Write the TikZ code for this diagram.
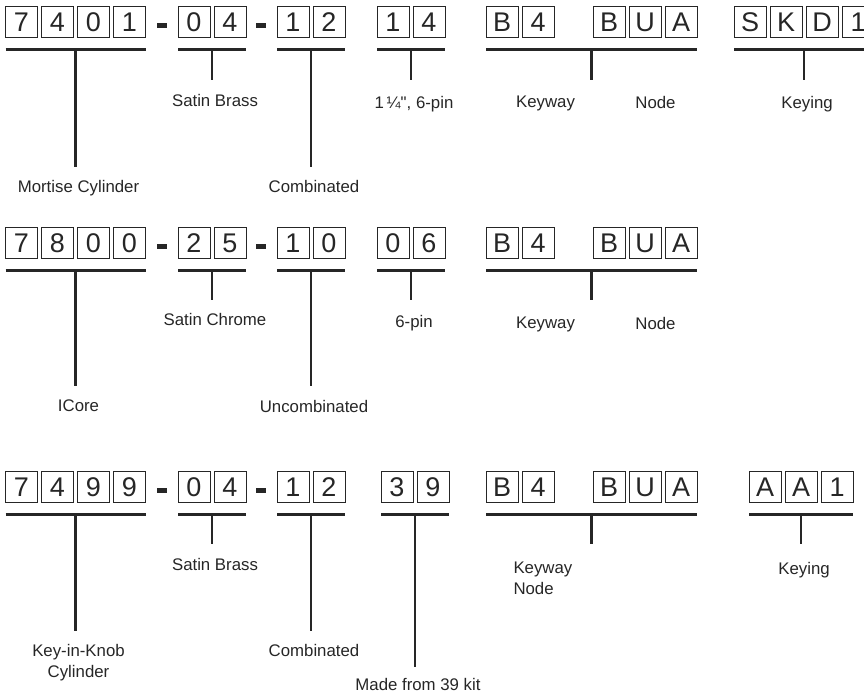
\documentclass[tikz,border=0pt]{standalone}
\usepackage{fontspec}
\setmainfont{Liberation Sans}
\newfontfamily\labelfont{Liberation Sans}
\usepackage{tikz}
\usetikzlibrary{positioning}

\begin{document}
\begin{tikzpicture}[
    x=1pt, y=-1pt,
    node distance=4pt,
    outer sep=0pt,
    digit/.style={draw=black!85, line width=1pt, rectangle, minimum width=32pt, minimum height=31pt, inner sep=0pt, font=\fontsize{27}{27}\selectfont, text=black!85},
    hyph/.style={fill=black!85, rectangle, minimum width=10pt, minimum height=5pt, inner sep=0pt, yshift=-3.5pt},
    bar/.style={draw=black!85, line width=3pt},
    stem/.style={draw=black!85, line width=2.4pt},
    lbl/.style={inner sep=0pt, font=\labelfont\fontsize{16.8}{21}\selectfont, text=black!85, align=center, xshift=3pt}
]
    \useasboundingbox (0,0) rectangle (864,694);
    \clip (0,0) rectangle (864,694);

    % Mortise cylinder
    \node [digit] (ma1) at (21.5,22) {7};
    \node [digit, right=of ma1] (ma2) {4};
    \node [digit, right=of ma2] (ma3) {0};
    \node [digit, right=of ma3] (ma4) {1};
    \node [hyph, right=11.5pt of ma4] (mh1) {};
    \node [digit, right=32.5pt of ma4] (mb1) {0};
    \node [digit, right=of mb1] (mb2) {4};
    \node [hyph, right=10pt of mb2] (mh2) {};
    \node [digit, right=31pt of mb2] (mc1) {1};
    \node [digit, right=of mc1] (mc2) {2};
    \node [digit, right=32pt of mc2] (md1) {1};
    \node [digit, right=of md1] (md2) {4};
    \node [digit, right=41pt of md2] (me1) {B};
    \node [digit, right=of me1] (me2) {4};
    \node [digit, right=39pt of me2] (mf1) {B};
    \node [digit, right=of mf1] (mf2) {U};
    \node [digit, right=of mf2] (mf3) {A};
    \node [digit, right=37pt of mf3] (mg1) {S};
    \node [digit, right=of mg1] (mg2) {K};
    \node [digit, right=of mg2] (mg3) {D};
    \node [digit, right=of mg3] (mg4) {1};

    \draw [bar] ([yshift=-11.5pt]ma1.south west) -- ([yshift=-11.5pt]ma4.south east) coordinate [midway] (uma);
    \draw [bar] ([yshift=-11.5pt]mb1.south west) -- ([yshift=-11.5pt]mb2.south east) coordinate [midway] (umb);
    \draw [bar] ([yshift=-11.5pt]mc1.south west) -- ([yshift=-11.5pt]mc2.south east) coordinate [midway] (umc);
    \draw [bar] ([yshift=-11.5pt]md1.south west) -- ([yshift=-11.5pt]md2.south east) coordinate [midway] (umd);
    \draw [bar] ([yshift=-11.5pt]me1.south west) -- ([yshift=-11.5pt]mf3.south east) coordinate [midway] (ume);
    \draw [bar] ([yshift=-11.5pt]mg1.south west) -- ([yshift=-11.5pt]mg4.south east) coordinate [midway] (umg);

    \draw [stem] (uma) -- ++(0,118) coordinate (sma);
    \draw [stem] (umb) -- ++(0,31) coordinate (smb);
    \draw [stem] (umc) -- ++(0,118) coordinate (smc);
    \draw [stem] (umd) -- ++(0,31) coordinate (smd);
    \draw [stem] (ume) -- ++(0,31) coordinate (sme);
    \draw [stem] (umg) -- ++(0,31) coordinate (smg);

    \node [lbl, below=13pt of sma] (lma) {Mortise Cylinder};
    \node [lbl, below=14pt of smb] (lmb) {Satin Brass};
    \node [lbl, below=13pt of smc] (lmc) {Combinated};
    \node [lbl, below=16pt of smd] (lmd) {1\,¼", 6-pin};
    \node [lbl, below=16pt of sme, xshift=-49pt] (lme) {Keyway};
    \node [lbl, below=16pt of sme, xshift=61pt] (lmn) {Node};
    \node [lbl, below=16pt of smg] (lmg) {Keying};

    % ICore
    \node [digit] (ia1) at (21.5,243) {7};
    \node [digit, right=of ia1] (ia2) {8};
    \node [digit, right=of ia2] (ia3) {0};
    \node [digit, right=of ia3] (ia4) {0};
    \node [hyph, right=11.5pt of ia4] (ih1) {};
    \node [digit, right=32.5pt of ia4] (ib1) {2};
    \node [digit, right=of ib1] (ib2) {5};
    \node [hyph, right=10pt of ib2] (ih2) {};
    \node [digit, right=31pt of ib2] (ic1) {1};
    \node [digit, right=of ic1] (ic2) {0};
    \node [digit, right=32pt of ic2] (id1) {0};
    \node [digit, right=of id1] (id2) {6};
    \node [digit, right=41pt of id2] (ie1) {B};
    \node [digit, right=of ie1] (ie2) {4};
    \node [digit, right=39pt of ie2] (if1) {B};
    \node [digit, right=of if1] (if2) {U};
    \node [digit, right=of if2] (if3) {A};

    \draw [bar] ([yshift=-11.5pt]ia1.south west) -- ([yshift=-11.5pt]ia4.south east) coordinate [midway] (uia);
    \draw [bar] ([yshift=-11.5pt]ib1.south west) -- ([yshift=-11.5pt]ib2.south east) coordinate [midway] (uib);
    \draw [bar] ([yshift=-11.5pt]ic1.south west) -- ([yshift=-11.5pt]ic2.south east) coordinate [midway] (uic);
    \draw [bar] ([yshift=-11.5pt]id1.south west) -- ([yshift=-11.5pt]id2.south east) coordinate [midway] (uid);
    \draw [bar] ([yshift=-11.5pt]ie1.south west) -- ([yshift=-11.5pt]if3.south east) coordinate [midway] (uie);

    \draw [stem] (uia) -- ++(0,116) coordinate (sia);
    \draw [stem] (uib) -- ++(0,30) coordinate (sib);
    \draw [stem] (uic) -- ++(0,116) coordinate (sic);
    \draw [stem] (uid) -- ++(0,30) coordinate (sid);
    \draw [stem] (uie) -- ++(0,30) coordinate (sie);

    \node [lbl, below=14pt of sia] (lia) {ICore};
    \node [lbl, below=13pt of sib] (lib) {Satin Chrome};
    \node [lbl, below=14pt of sic] (lic) {Uncombinated};
    \node [lbl, below=15pt of sid] (lid) {6-pin};
    \node [lbl, below=17pt of sie, xshift=-49pt] (lie) {Keyway};
    \node [lbl, below=17pt of sie, xshift=61pt] (lin) {Node};

    % Key-in-knob cylinder
    \node [digit] (ka1) at (21.5,487) {7};
    \node [digit, right=of ka1] (ka2) {4};
    \node [digit, right=of ka2] (ka3) {9};
    \node [digit, right=of ka3] (ka4) {9};
    \node [hyph, right=11.5pt of ka4] (kh1) {};
    \node [digit, right=32.5pt of ka4] (kb1) {0};
    \node [digit, right=of kb1] (kb2) {4};
    \node [hyph, right=10pt of kb2] (kh2) {};
    \node [digit, right=31pt of kb2] (kc1) {1};
    \node [digit, right=of kc1] (kc2) {2};
    \node [digit, right=36pt of kc2] (kd1) {3};
    \node [digit, right=of kd1] (kd2) {9};
    \node [digit, right=37pt of kd2] (ke1) {B};
    \node [digit, right=of ke1] (ke2) {4};
    \node [digit, right=39pt of ke2] (kf1) {B};
    \node [digit, right=of kf1] (kf2) {U};
    \node [digit, right=of kf2] (kf3) {A};
    \node [digit, right=52pt of kf3] (kg1) {A};
    \node [digit, right=of kg1] (kg2) {A};
    \node [digit, right=of kg2] (kg3) {1};

    \draw [bar] ([yshift=-11.5pt]ka1.south west) -- ([yshift=-11.5pt]ka4.south east) coordinate [midway] (uka);
    \draw [bar] ([yshift=-11.5pt]kb1.south west) -- ([yshift=-11.5pt]kb2.south east) coordinate [midway] (ukb);
    \draw [bar] ([yshift=-11.5pt]kc1.south west) -- ([yshift=-11.5pt]kc2.south east) coordinate [midway] (ukc);
    \draw [bar] ([yshift=-11.5pt]kd1.south west) -- ([yshift=-11.5pt]kd2.south east) coordinate [midway] (ukd);
    \draw [bar] ([yshift=-11.5pt]ke1.south west) -- ([yshift=-11.5pt]kf3.south east) coordinate [midway] (uke);
    \draw [bar] ([yshift=-11.5pt]kg1.south west) -- ([yshift=-11.5pt]kg3.south east) coordinate [midway] (ukg);

    \draw [stem] (uka) -- ++(0,117) coordinate (ska);
    \draw [stem] (ukb) -- ++(0,30) coordinate (skb);
    \draw [stem] (ukc) -- ++(0,117) coordinate (skc);
    \draw [stem] (ukd) -- ++(0,153) coordinate (skd);
    \draw [stem] (uke) -- ++(0,30) coordinate (ske);
    \draw [stem] (ukg) -- ++(0,30) coordinate (skg);

    \node [lbl, below=13pt of ska] (lka) {Key-in-Knob\\Cylinder};
    \node [lbl, below=14pt of skb] (lkb) {Satin Brass};
    \node [lbl, below=13pt of skc] (lkc) {Combinated};
    \node [lbl, below=11pt of skd] (lkd) {Made from 39 kit};
    \node [lbl, align=left, below right=18pt and -81pt of ske] (lke) {Keyway\\Node};
    \node [lbl, below=18pt of skg] (lkg) {Keying};
\end{tikzpicture}
\end{document}
